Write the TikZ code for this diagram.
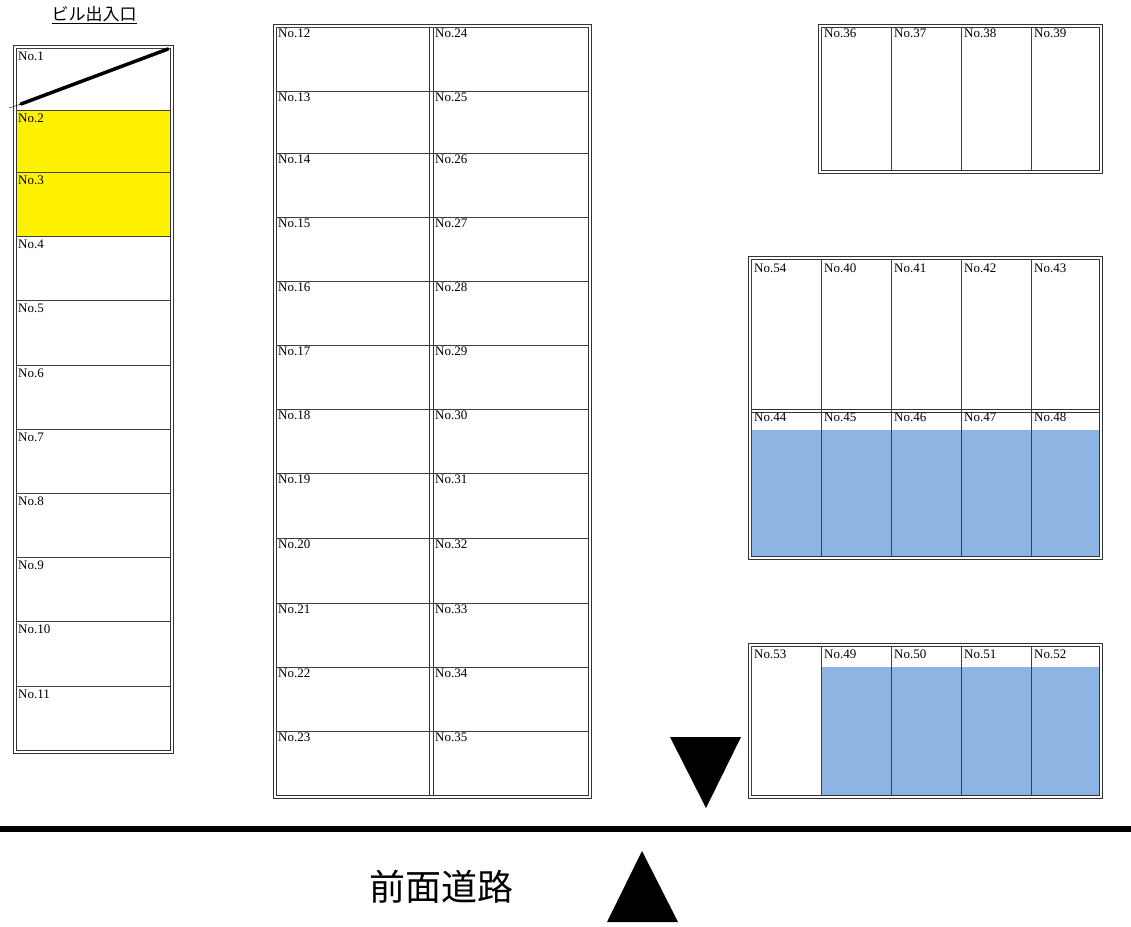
\documentclass[tikz,border=0pt]{standalone}
\usepackage{fontspec}
\setmainfont{Liberation Serif}
\newfontfamily\cjk{Noto Sans CJK JP}
\tikzset{lot/.style={anchor=north west,inner sep=0pt,font=\fontsize{13}{13}\selectfont},
    frame/.style={draw=black!80,line width=0.8pt},
    cell/.style={draw=black!75,line width=0.6pt},
    wayarrow/.style={fill=black,draw=none}}
\colorlet{paid}{yellow}
\definecolor{booked}{HTML}{8EB4E3}

\begin{document}
\begin{tikzpicture}[x=1pt,y=-1pt]
\useasboundingbox (0,0) rectangle (1131,926);
% colour fills
\fill[paid] (16,110) rectangle (170,236);
\fill[booked] (751,430) rectangle (1099,556);
\fill[booked] (821,667) rectangle (1099,795);
% left column
\draw[frame] (13,45) rectangle (173,753);
\draw[frame] (16,48) rectangle (170,750);
\foreach \y [count=\i] in {48,110,172,236,300,365,429,493,557,621,686}{
    \draw[cell] (16,\y) -- (170,\y);
    \node[lot] (n\i) at (18,\y+4) {No.\i};
}
\draw[line width=3.5pt,line cap=round] (21,104) -- (168,49);
\draw[thin] (9,108) -- (21,104);
% middle double column
\draw[frame] (273,24) rectangle (591,798);
\draw[frame] (276,27) rectangle (588,795);
\draw[frame] (429,27) -- (429,795);
\draw[frame] (433,27) -- (433,795);
\foreach \y [count=\i] in {27,91,153,217,281,345,409,473,538,603,667,731}{
    \pgfmathtruncatemacro{\a}{\i+11}
    \pgfmathtruncatemacro{\b}{\i+23}
    \draw[cell] (276,\y) -- (588,\y);
    \node[lot] (n\a) at (278,\y+2) {No.\a};
    \node[lot] (n\b) at (435,\y+2) {No.\b};
}
% right top block
\draw[frame] (818,24) rectangle (1102,173);
\draw[frame] (821,27) rectangle (1099,170);
\foreach \x/\k in {821/36,891/37,961/38,1031/39}{
    \draw[cell] (\x,27) -- (\x,170);
    \node[lot] (n\k) at (\x+3,29) {No.\k};
}
% right middle block
\draw[frame] (748,256) rectangle (1102,559);
\draw[frame] (751,259) rectangle (1099,556);
\draw[frame] (751,409) -- (1099,409);
\draw[frame] (751,412) -- (1099,412);
\foreach \x/\k/\m in {751/54/44,821/40/45,891/41/46,961/42/47,1031/43/48}{
    \draw[cell] (\x,259) -- (\x,556);
    \node[lot] (n\k) at (\x+3,264) {No.\k};
    \node[lot] (n\m) at (\x+3,413) {No.\m};
}
% right bottom block
\draw[frame] (748,643) rectangle (1102,798);
\draw[frame] (751,646) rectangle (1099,795);
\foreach \x/\k in {751/53,821/49,891/50,961/51,1031/52}{
    \draw[cell] (\x,646) -- (\x,795);
    \node[lot] (n\k) at (\x+3,650) {No.\k};
}
% road
\draw[line width=6pt] (0,829) -- (1131,829);
\fill[wayarrow] (670,737) -- (741,737) -- (706,808) -- cycle;
\fill[wayarrow] (607,922) -- (678,922) -- (642,851) -- cycle;
\node[font=\cjk\fontsize{36}{36}\selectfont] (road) at (441,887) {前面道路};
\node[font=\cjk\fontsize{17}{17}\selectfont,inner sep=1pt] (gate) at (94,15) {\underline{ビル出入口}};
\end{tikzpicture}
\end{document}
